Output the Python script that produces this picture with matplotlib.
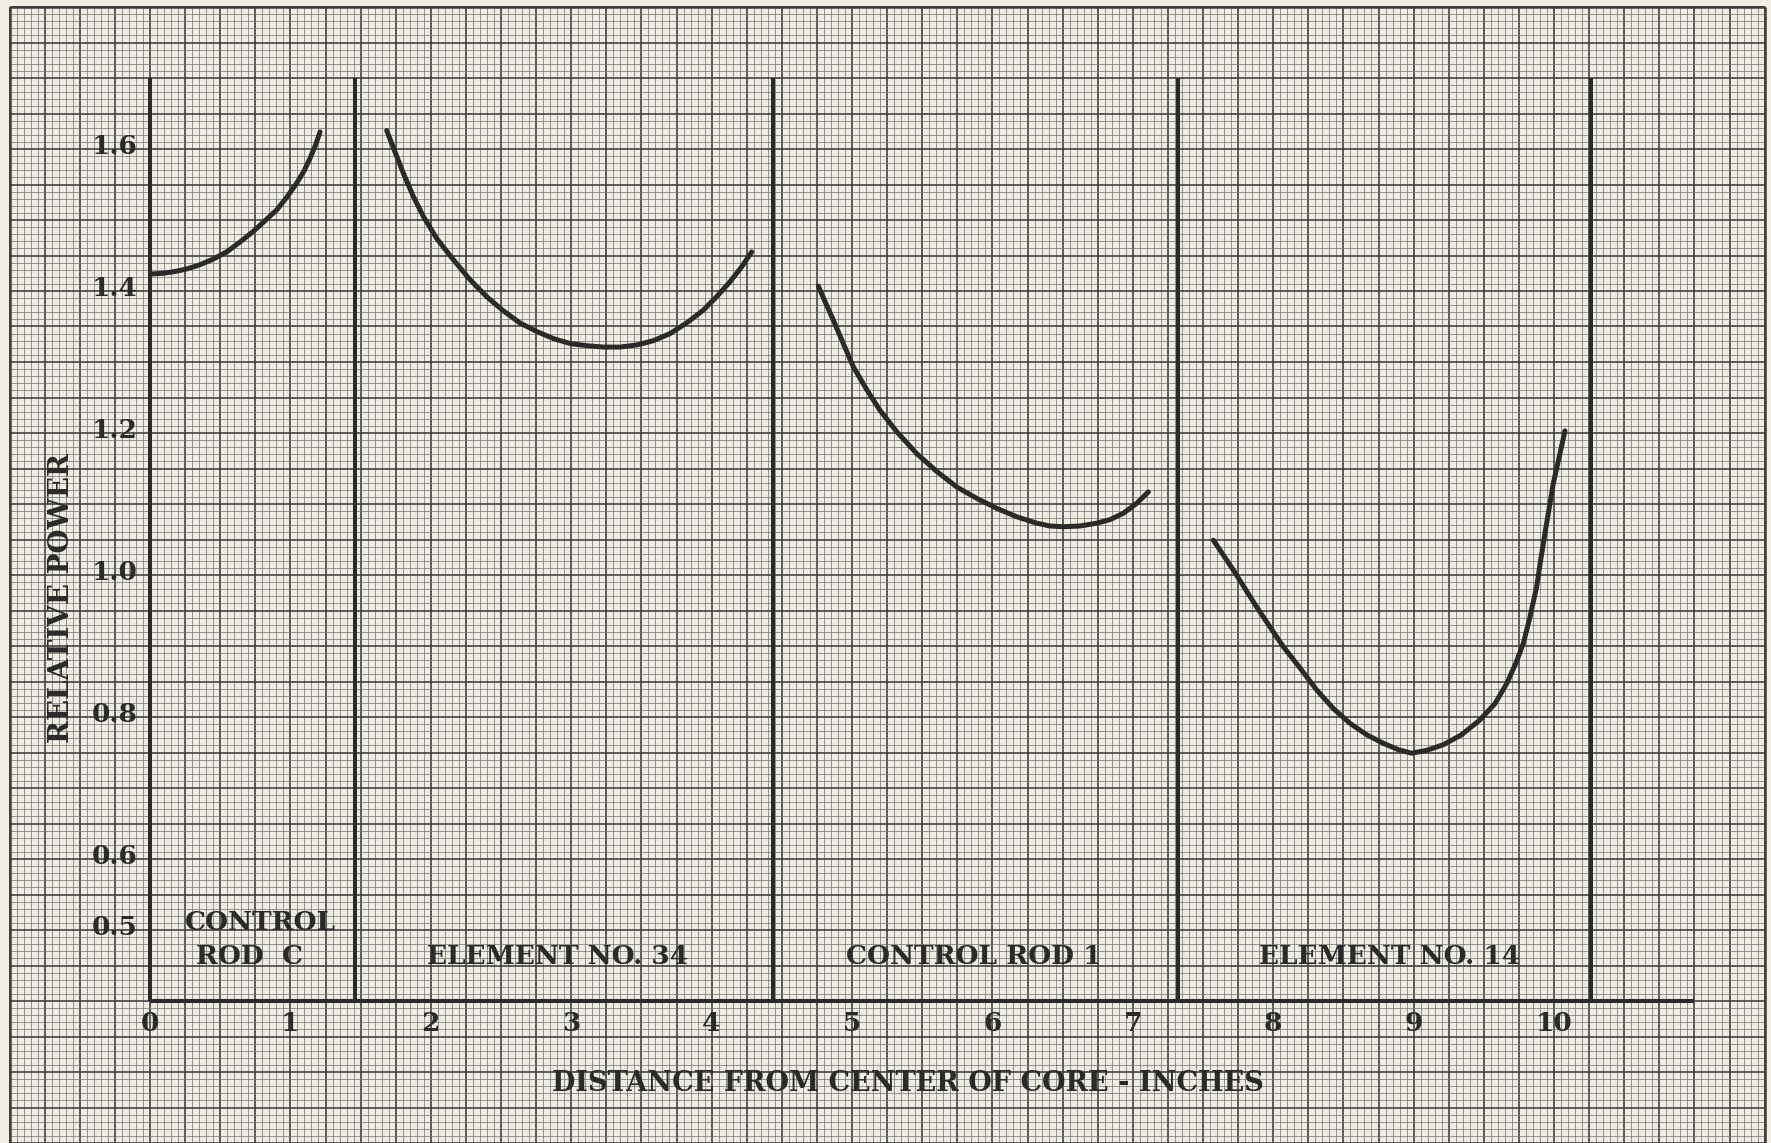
import numpy as np
import matplotlib
matplotlib.use("Agg")
import matplotlib.pyplot as plt

# ---------------- data ----------------
x_rod_c = [0.012, 0.095, 0.166, 0.261, 0.356, 0.451, 0.546, 0.641, 0.736,
           0.819, 0.902, 0.974, 1.045, 1.097, 1.140, 1.180, 1.211]
y_rod_c = [1.424, 1.425, 1.427, 1.431, 1.437, 1.445, 1.455, 1.469, 1.484,
           1.499, 1.514, 1.532, 1.552, 1.569, 1.587, 1.606, 1.624]

x_elem34 = [1.686, 1.745, 1.804, 1.876, 1.947, 2.042, 2.161, 2.279, 2.398,
            2.517, 2.635, 2.754, 2.873, 2.992, 3.110, 3.229, 3.348, 3.466,
            3.585, 3.704, 3.822, 3.941, 4.036, 4.131, 4.214, 4.285]
y_elem34 = [1.626, 1.596, 1.566, 1.533, 1.505, 1.474, 1.444, 1.416, 1.392,
            1.372, 1.355, 1.343, 1.333, 1.326, 1.323, 1.321, 1.321, 1.324,
            1.330, 1.340, 1.355, 1.373, 1.392, 1.413, 1.434, 1.455]

x_rod1 = [4.760, 4.808, 4.867, 4.938, 5.010, 5.105, 5.199, 5.318, 5.461,
          5.603, 5.746, 5.888, 6.030, 6.173, 6.315, 6.410, 6.505, 6.624,
          6.743, 6.838, 6.933, 7.028, 7.111]
y_rod1 = [1.407, 1.385, 1.359, 1.326, 1.293, 1.261, 1.232, 1.202, 1.171,
          1.146, 1.124, 1.108, 1.094, 1.082, 1.073, 1.069, 1.068, 1.069,
          1.073, 1.078, 1.087, 1.101, 1.117]

x_elem14 = [7.574, 7.645, 7.716, 7.799, 7.882, 7.977, 8.072, 8.191, 8.310,
            8.428, 8.547, 8.666, 8.784, 8.891, 8.986, 9.093, 9.212, 9.342,
            9.473, 9.580, 9.663, 9.729, 9.782, 9.829, 9.877, 9.905, 9.936,
            9.967, 9.995, 10.038, 10.078]
y_elem14 = [1.049, 1.028, 1.007, 0.981, 0.955, 0.927, 0.899, 0.869, 0.838,
            0.812, 0.791, 0.775, 0.763, 0.754, 0.749, 0.753, 0.761, 0.775,
            0.796, 0.819, 0.847, 0.876, 0.904, 0.941, 0.984, 1.021, 1.059,
            1.096, 1.129, 1.167, 1.203]

dividers = [1.46, 4.44, 7.32, 10.26]
x_ticks = [0, 1, 2, 3, 4, 5, 6, 7, 8, 9, 10]
x_tick_labels = ["0", "1", "2", "3", "4", "5", "6", "7", "8", "9", "10"]
y_ticks = [1.6, 1.4, 1.2, 1.0, 0.8, 0.6, 0.5]
y_tick_labels = ["1.6", "1.4", "1.2", "1.0", "0.8", "0.6", "0.5"]

region_labels = ["ELEMENT NO. 34", "CONTROL ROD 1", "ELEMENT NO. 14"]
region_x = [2.906, 5.87, 8.83]

# ---------------- figure ----------------
W, H = 1771, 1143
fig = plt.figure(figsize=(W / 100, H / 100), dpi=100)
paper = "#efece3"
fig.patch.set_facecolor("#f1ede3")
ax = fig.add_axes([0, 0, 1, 1])
ax.set_xlim((0 - 150) / 140.4, (W - 150) / 140.4)
ax.set_ylim(1.2 - (H - 433) / 710, 1.2 + 433 / 710)
ax.axis("off")

ink = "#2a2a2a"
gridc = "#3c3c3c"
minorc = "#707070"

# graph paper
gx0, gx1 = -1.0, 11.5
gy0, gy1 = 0.15, 1.8
ax.add_patch(plt.Rectangle((gx0, gy0), gx1 - gx0, gy1 - gy0,
                           facecolor=paper, edgecolor="none", zorder=0))
xs = np.round(np.arange(gx0, gx1 + 1e-9, 0.05), 3)
ys = np.round(np.arange(0.2, gy1 + 1e-9, 0.01), 3)
for v in xs:
    k = int(round(v / 0.05))
    if k % 5 == 0:
        lw, c = 1.15, gridc
    else:
        lw, c = 0.5, minorc
    ax.vlines(v, gy0, gy1, colors=c, linewidth=lw, zorder=1)
for v in ys:
    k = int(round(v / 0.01))
    if k % 5 == 0:
        lw, c = 1.15, gridc
    else:
        lw, c = 0.5, minorc
    ax.hlines(v, gx0, gx1, colors=c, linewidth=lw, zorder=1)
# paper edges
ax.vlines([gx0, gx1], gy0, gy1, colors=gridc, linewidth=1.8, zorder=1)
ax.hlines(gy1, gx0, gx1, colors=gridc, linewidth=1.8, zorder=1)

# axes and dividers
ax.plot([0, 0], [0.4, 1.7], color=ink, lw=2.9, zorder=3, solid_capstyle="butt")
ax.plot([0, 11.0], [0.4, 0.4], color=ink, lw=2.9, zorder=3, solid_capstyle="butt")
for d in dividers:
    ax.plot([d, d], [0.4, 1.7], color=ink, lw=2.9, zorder=3, solid_capstyle="butt")

# curves
for xv, yv in [(x_rod_c, y_rod_c), (x_elem34, y_elem34),
               (x_rod1, y_rod1), (x_elem14, y_elem14)]:
    ax.plot(xv, yv, color=ink, lw=3.6, zorder=4,
            solid_capstyle="round", solid_joinstyle="round")

font = dict(family=["DejaVu Serif"], fontweight="bold", color=ink, zorder=5)

for t, lab in zip(x_ticks, x_tick_labels):
    ax.text(t, 0.369, lab, ha="center", va="center", fontsize=19, **font)
for t, lab in zip(y_ticks, y_tick_labels):
    ax.text(-0.09, t + 0.004, lab, ha="right", va="center", fontsize=19, **font)

ax.text(0.785, 0.511, "CONTROL", ha="center", va="center", fontsize=19, **font)
ax.text(0.71, 0.462, "ROD  C", ha="center", va="center", fontsize=19, **font)
for lab, xp in zip(region_labels, region_x):
    ax.text(xp, 0.462, lab, ha="center", va="center", fontsize=19, **font)

ax.text(5.395, 0.2845, "DISTANCE FROM CENTER OF CORE - INCHES",
        ha="center", va="center", fontsize=19.5, **font)
ax.text(-0.627, 0.968, "RELATIVE POWER", ha="center", va="center",
        rotation=90, fontsize=20, **font)

fig.savefig("out.png", dpi=100, facecolor=fig.get_facecolor())
